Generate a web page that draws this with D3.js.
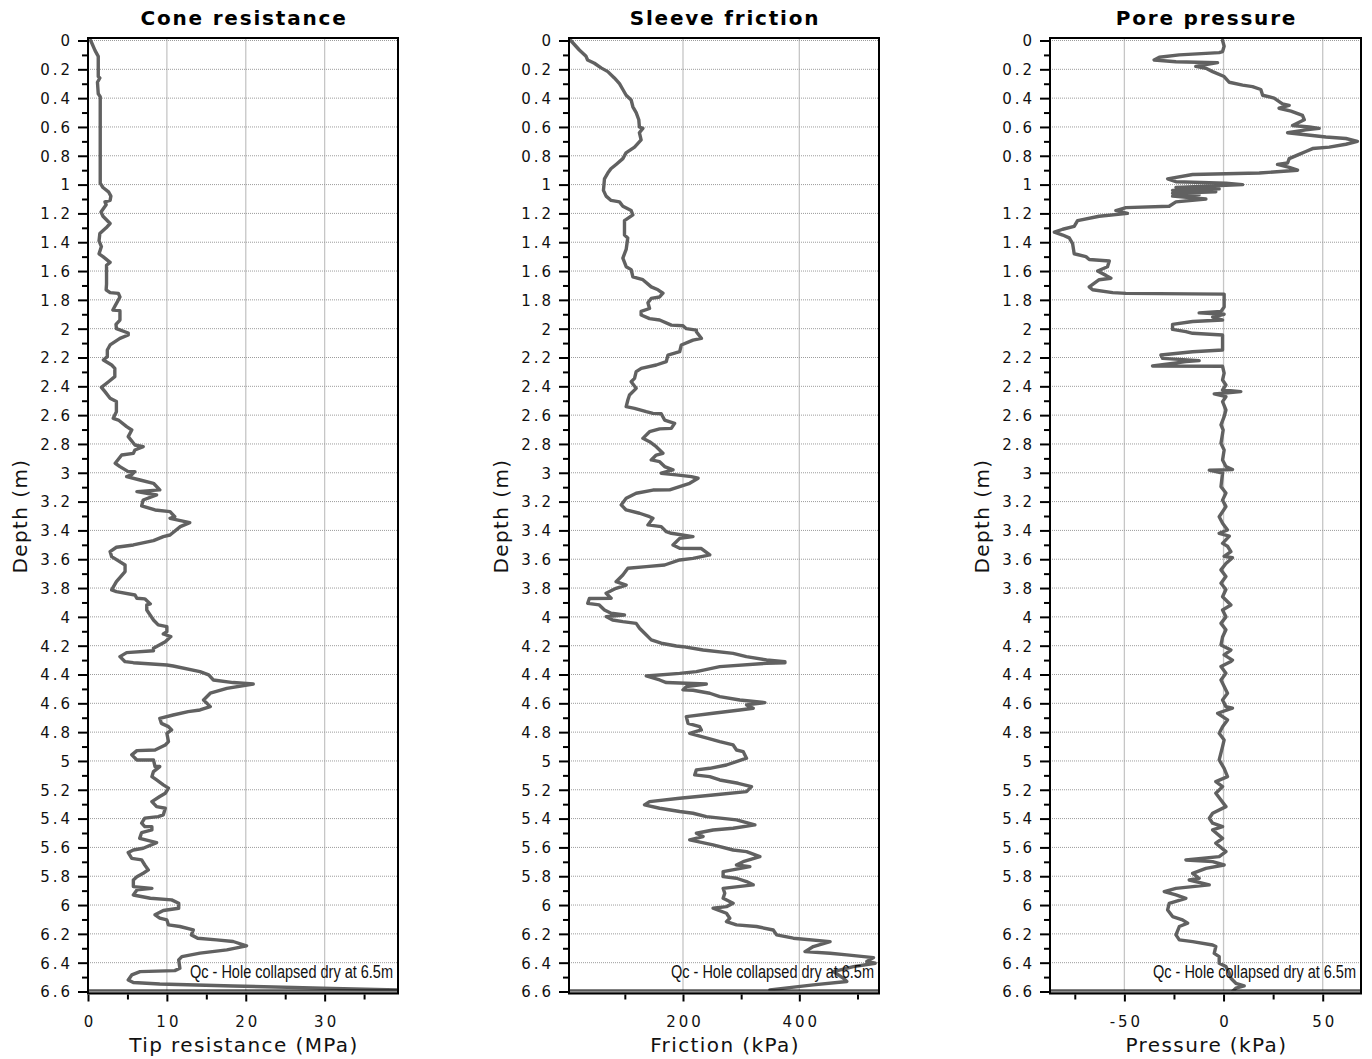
<!DOCTYPE html>
<html>
<head>
<meta charset="utf-8">
<script src="https://d3js.org/d3.v7.min.js"></script>
<style>
  body { margin: 0; background: #fff; }
  svg { display: block; }
  .tick text { font-family: "DejaVu Sans", Verdana, sans-serif; font-size: 15px; letter-spacing: 3px; fill: #111; }
  .title { font-family: "DejaVu Sans", Verdana, sans-serif; font-weight: bold; font-size: 20px; letter-spacing: 1.8px; fill: #000; }
  .axis-title { font-family: "DejaVu Sans", Verdana, sans-serif; font-size: 20px; letter-spacing: 1.4px; fill: #111; }
  .note { font-family: "Liberation Sans Narrow", "Liberation Sans", Arial, sans-serif; font-size: 18px; fill: #111; }
</style>
</head>
<body>
<svg id="chart" width="1372" height="1059"></svg>
<script>
// ---- CPT sounding: depth (m) vs. measured value ----

const panelTitles = ["Cone resistance", "Sleeve friction", "Pore pressure"];
const xAxisTitles = ["Tip resistance (MPa)", "Friction (kPa)", "Pressure (kPa)"];
const depthTitle = "Depth (m)";
const noteText = "Qc - Hole collapsed dry at 6.5m";

const depthDomain = [0, 6.6];
const depthTicks = [0, 0.2, 0.4, 0.6, 0.8, 1, 1.2, 1.4, 1.6, 1.8, 2, 2.2, 2.4, 2.6, 2.8, 3, 3.2, 3.4,
  3.6, 3.8, 4, 4.2, 4.4, 4.6, 4.8, 5, 5.2, 5.4, 5.6, 5.8, 6, 6.2, 6.4, 6.6];
const depthMinorTicks = [0.1, 0.3, 0.5, 0.7, 0.9, 1.1, 1.3, 1.5, 1.7, 1.9, 2.1, 2.3, 2.5, 2.7, 2.9,
  3.1, 3.3, 3.5, 3.7, 3.9, 4.1, 4.3, 4.5, 4.7, 4.9, 5.1, 5.3, 5.5, 5.7, 5.9, 6.1, 6.3, 6.5];

const coneDomain = [0, 39.3];
const coneTicks = [0, 10, 20, 30];
const coneMinorTicks = [5, 15, 25, 35];

const frictionDomain = [4, 537];
const frictionTicks = [200, 400];
const frictionMinorTicks = [100, 300, 500];

const poreDomain = [-87.5, 69.3];
const poreTicks = [-50, 0, 50];
const poreMinorTicks = [-75, -25, 25];

// [depth m, tip resistance MPa]
const coneProfile = [
  [0.00,0.34],[0.07,0.9],[0.11,1.3],[0.25,1.3],[0.26,1.5],[0.29,1.2],[0.37,1.3],[0.39,1.55],[0.99,1.55],
  [1.02,1.9],[1.05,2.6],[1.08,2.9],[1.11,2.8],[1.12,2.15],[1.14,2.3],[1.19,1.65],[1.22,1.9],[1.27,2.8],
  [1.30,2.3],[1.34,1.5],[1.39,1.4],[1.43,1.7],[1.48,1.4],[1.50,1.9],[1.54,2.8],[1.56,2.35],[1.69,2.35],
  [1.73,2.3],[1.75,2.8],[1.755,3.85],[1.78,4.05],[1.84,3.45],[1.87,3.15],[1.875,4.05],[1.94,4.05],
  [1.97,3.55],[2.00,3.6],[2.03,5.1],[2.044,5.1],[2.067,4.05],[2.113,2.8],[2.148,2.45],[2.194,2.45],
  [2.217,1.95],[2.252,3.0],[2.275,3.4],[2.333,3.4],[2.368,2.6],[2.407,1.7],[2.437,2.15],[2.483,2.8],
  [2.506,3.6],[2.576,3.6],[2.622,3.2],[2.634,3.85],[2.68,4.9],[2.703,5.55],[2.749,5.1],[2.807,5.95],
  [2.819,7.0],[2.842,5.95],[2.865,5.75],[2.877,4.27],[2.934,3.45],[2.957,4.05],[2.992,5.1],[2.992,5.95],
  [3.015,5.5],[3.027,4.9],[3.05,6.6],[3.073,8.3],[3.119,9.1],[3.131,6.2],[3.154,8.7],[3.189,7.0],
  [3.23,6.8],[3.258,8.5],[3.27,10.4],[3.305,11.0],[3.316,10.4],[3.346,12.9],[3.374,11.7],[3.432,10.4],
  [3.443,9.55],[3.471,8.3],[3.501,5.75],[3.517,3.6],[3.547,2.8],[3.582,3.0],[3.64,4.7],[3.686,4.7],
  [3.756,3.6],[3.813,3.0],[3.825,3.6],[3.848,5.95],[3.871,6.2],[3.875,7.2],[3.91,7.9],[3.917,7.45],
  [3.952,7.45],[4.022,8.3],[4.056,8.9],[4.068,10.0],[4.103,10.0],[4.119,9.55],[4.137,10.5],[4.172,9.8],
  [4.218,8.3],[4.235,8.3],[4.248,4.9],[4.276,4.05],[4.311,4.7],[4.318,5.75],[4.334,10.0],[4.341,10.8],
  [4.38,14.2],[4.403,15.3],[4.438,15.9],[4.456,18.4],[4.466,20.95],[4.496,17.6],[4.53,15.5],[4.577,14.65],
  [4.623,15.5],[4.646,14.2],[4.658,12.7],[4.681,10.8],[4.704,9.1],[4.739,9.3],[4.762,10.2],[4.785,10.6],
  [4.808,10.0],[4.866,10.2],[4.889,9.8],[4.924,8.5],[4.928,6.2],[4.958,5.55],[4.993,6.2],[4.993,8.3],
  [5.039,8.5],[5.039,9.1],[5.074,8.3],[5.109,8.1],[5.132,8.7],[5.166,9.55],[5.189,10.2],[5.224,9.8],
  [5.247,9.1],[5.282,8.1],[5.317,8.7],[5.328,9.8],[5.374,9.55],[5.386,8.9],[5.397,7.2],[5.432,6.8],
  [5.456,7.2],[5.456,8.1],[5.479,8.1],[5.497,6.8],[5.537,6.55],[5.567,8.7],[5.606,7.0],[5.618,5.75],
  [5.636,5.1],[5.676,5.55],[5.687,6.8],[5.722,7.2],[5.756,7.65],[5.779,7.0],[5.803,6.2],[5.826,5.75],
  [5.872,5.75],[5.884,8.1],[5.895,6.2],[5.93,5.75],[5.953,7.9],[5.964,10.6],[5.988,11.5],[6.022,11.5],
  [6.038,9.55],[6.068,8.5],[6.091,9.1],[6.103,10.0],[6.138,10.2],[6.149,11.65],[6.172,13.35],[6.207,13.1],
  [6.23,13.9],[6.242,16.3],[6.253,18.4],[6.283,20.1],[6.311,17.6],[6.334,14.2],[6.358,11.9],[6.381,11.5],
  [6.439,11.65],[6.455,11.0],[6.462,6.6],[6.485,5.55],[6.52,5.1],[6.538,5.75],[6.548,9.1],[6.562,18.4],
  [6.578,31.0],[6.589,39.3]
];

// [depth m, sleeve friction kPa]
const frictionProfile = [
  [0.00,7],[0.066,21.8],[0.11,33.3],[0.135,36],[0.158,47.7],[0.19,59.2],[0.216,70.7],[0.26,82],
  [0.30,90.8],[0.34,96.6],[0.38,102.3],[0.413,110.9],[0.46,113.8],[0.50,119.5],[0.55,124],[0.60,125],
  [0.61,131],[0.64,125],[0.69,128],[0.74,116.7],[0.78,102],[0.82,96.6],[0.86,85],[0.89,76],[0.92,70.7],
  [0.96,65],[1.04,63.2],[1.08,67.8],[1.11,76.4],[1.12,90.8],[1.15,96.6],[1.18,110.9],[1.21,113.8],
  [1.25,99.4],[1.35,99.4],[1.37,105],[1.45,102.3],[1.51,96.6],[1.57,102.3],[1.59,110.9],[1.64,113.8],
  [1.66,131],[1.71,145.4],[1.73,157],[1.754,165.5],[1.78,159.8],[1.79,145.4],[1.82,139.7],[1.86,142.5],
  [1.88,128],[1.905,128],[1.93,142.5],[1.94,159.8],[1.975,180],[1.98,200],[2.00,205.7],[2.01,223],
  [2.021,223],[2.067,231.6],[2.079,217.2],[2.113,197.1],[2.16,194.3],[2.183,174.1],[2.229,171.3],
  [2.252,154],[2.275,128.2],[2.298,119.5],[2.345,116.7],[2.368,110.9],[2.414,119.5],[2.46,108],
  [2.495,105.2],[2.541,102.3],[2.553,116.7],[2.576,136.8],[2.588,148.3],[2.59,162.6],[2.634,168.4],
  [2.657,185.6],[2.692,179.9],[2.695,159.8],[2.715,142.5],[2.761,131],[2.784,142.5],[2.819,154],
  [2.865,165.5],[2.877,154],[2.911,145.4],[2.923,159.8],[2.957,168.4],[2.98,182.8],[3.003,162.6],
  [3.015,188.5],[3.027,214.4],[3.038,225.9],[3.073,211.5],[3.119,177],[3.12,148.3],[3.142,119.5],
  [3.177,102.3],[3.223,93.7],[3.258,102.3],[3.281,125.3],[3.305,142.5],[3.316,148.3],[3.362,139.7],
  [3.374,162.6],[3.409,171.3],[3.42,179.9],[3.443,217.2],[3.455,194.3],[3.501,182.8],[3.524,194.3],
  [3.526,231.6],[3.57,246],[3.594,217.2],[3.605,194.3],[3.64,168.4],[3.651,136.8],[3.663,105.2],
  [3.709,96.6],[3.756,85],[3.779,102.3],[3.802,85],[3.836,67.8],[3.871,76.4],[3.873,39],[3.906,36.2],
  [3.917,56],[3.952,65],[3.975,76.4],[3.987,99.4],[3.998,67.8],[4.022,79],[4.033,96.6],[4.045,119.5],
  [4.079,125.3],[4.114,134],[4.16,145.4],[4.183,162.6],[4.202,188.5],[4.207,200],[4.23,234.5],
  [4.253,286.2],[4.276,309],[4.299,343.7],[4.311,375.3],[4.318,375.3],[4.322,343.7],[4.345,263.2],
  [4.38,223],[4.392,194.3],[4.41,136.8],[4.438,159.8],[4.456,171.3],[4.461,205.7],[4.466,240.2],
  [4.484,205.7],[4.507,200],[4.509,217.2],[4.53,246],[4.554,263.2],[4.577,297.7],[4.595,340.8],
  [4.611,309.2],[4.634,320.7],[4.646,297.7],[4.669,251.7],[4.692,205.7],[4.739,208.6],[4.762,228.7],
  [4.785,231.6],[4.808,211.5],[4.843,243.1],[4.866,263.2],[4.889,286.2],[4.924,292],[4.935,303.4],
  [4.981,309.2],[5.028,274.7],[5.051,246],[5.062,223],[5.097,220.1],[5.109,246],[5.132,263.2],
  [5.155,294.8],[5.178,317.8],[5.213,309.2],[5.236,251.7],[5.259,194.3],[5.282,142.5],[5.305,133.9],
  [5.328,159.8],[5.351,194.3],[5.363,217.2],[5.386,240.2],[5.409,292],[5.444,323.6],[5.467,286.2],
  [5.479,251.7],[5.502,223],[5.525,234.5],[5.548,211.5],[5.583,251.7],[5.618,286.2],[5.629,309.2],
  [5.664,332.2],[5.699,303.4],[5.722,292],[5.733,315],[5.768,269],[5.803,269],[5.814,292],[5.837,309.2],
  [5.86,320.7],[5.884,269],[5.918,271.8],[5.953,269],[5.988,286.2],[6.011,274.7],[6.022,251.7],
  [6.057,274.7],[6.092,280.5],[6.115,274.7],[6.138,292],[6.149,326.4],[6.173,355.2],[6.207,360.9],
  [6.23,389.7],[6.254,452.9],[6.288,424.1],[6.323,409.8],[6.335,452.9],[6.346,481.6],[6.365,527.6],
  [6.392,516.1],[6.404,530.5],[6.427,493.1],[6.462,458.6],[6.508,475.9],[6.531,481.6],[6.554,424.1],
  [6.589,349.4]
];

// [depth m, pore pressure kPa]
const poreProfile = [
  [0.00,-0.5],[0.04,0.3],[0.077,-0.5],[0.084,-2.2],[0.10,-22.3],[0.116,-32.4],[0.135,-35],[0.147,-24],
  [0.154,-3],[0.18,-14],[0.193,-8.9],[0.216,-5.5],[0.25,0.3],[0.29,2.9],[0.31,9.6],[0.32,14.6],
  [0.34,18.8],[0.38,19.7],[0.40,25.5],[0.44,29.7],[0.45,33.1],[0.47,28],[0.49,34],[0.52,39.8],
  [0.55,40.7],[0.59,34.8],[0.60,43.2],[0.61,48.2],[0.62,41.5],[0.64,32.3],[0.67,51.6],[0.68,61.7],
  [0.70,67.5],[0.72,61.7],[0.74,53.3],[0.75,44.9],[0.77,41.5],[0.79,38.1],[0.82,33.1],[0.85,32.3],
  [0.86,27.2],[0.88,33.1],[0.90,37.3],[0.92,18],[0.93,-15.6],[0.96,-28.2],[0.98,-24],[0.99,1.2],
  [1.00,9.6],[1.02,-24],[1.03,-2.2],[1.04,-25.7],[1.05,-3.9],[1.06,-25.7],[1.07,-12.3],[1.08,-25.7],
  [1.10,-8.9],[1.12,-24],[1.15,-27.4],[1.16,-49.2],[1.18,-54.3],[1.20,-48.4],[1.22,-62.7],[1.25,-73.6],
  [1.29,-75.3],[1.31,-81.1],[1.33,-85.3],[1.35,-81.1],[1.37,-77.8],[1.41,-76.1],[1.48,-75.3],
  [1.50,-69.4],[1.52,-67.7],[1.53,-57.6],[1.57,-58.5],[1.60,-63.5],[1.63,-59.3],[1.65,-56.8],
  [1.66,-62.7],[1.71,-67.7],[1.73,-66],[1.75,-55.9],[1.755,-49.2],[1.76,0.3],[1.85,0.3],[1.88,-1.3],
  [1.89,-12.3],[1.90,0.3],[1.92,-5.5],[1.94,-0.5],[1.95,-15.6],[1.97,-25.7],[2.005,-25.7],[2.02,-19],
  [2.032,-15.6],[2.044,-0.5],[2.148,-0.5],[2.16,-15.6],[2.183,-31.6],[2.206,-30.7],[2.222,-12.3],
  [2.229,-19],[2.259,-35.8],[2.261,-0.5],[2.309,0.3],[2.356,-0.5],[2.391,1.2],[2.426,-0.5],[2.437,8.7],
  [2.453,-4.7],[2.472,1.2],[2.506,-0.5],[2.564,1.2],[2.611,0.3],[2.668,-1.3],[2.703,-0.2],[2.796,-1.3],
  [2.842,0.3],[2.911,-0.5],[2.957,1.2],[2.978,4.5],[2.982,-7.2],[3.003,-0.5],[3.096,-1.3],[3.14,1.2],
  [3.19,-0.5],[3.235,1.2],[3.305,-2.2],[3.35,-0.5],[3.397,2.0],[3.42,-2.2],[3.44,2.9],[3.49,-0.5],
  [3.51,2.0],[3.547,3.7],[3.58,0.3],[3.59,4.5],[3.63,1.2],[3.674,-1.3],[3.72,1.2],[3.767,-1.3],
  [3.81,1.2],[3.86,-0.5],[3.918,3.7],[3.952,-0.5],[4.0,1.2],[4.045,-1.3],[4.09,1.2],[4.14,-0.5],
  [4.195,-1.3],[4.23,3.7],[4.264,0.3],[4.30,4.5],[4.31,3.7],[4.345,-1.3],[4.392,1.2],[4.438,-1.3],
  [4.53,2.0],[4.577,-0.5],[4.623,1.2],[4.634,4.5],[4.669,-3.0],[4.715,2.0],[4.762,-0.5],[4.808,-2.2],
  [4.854,0.3],[4.9,-0.5],[4.993,-2.2],[5.051,0.3],[5.109,2.0],[5.143,-3.9],[5.178,-0.5],[5.224,-3.9],
  [5.317,1.2],[5.363,-5.5],[5.398,-7.2],[5.432,-5.5],[5.456,-0.5],[5.479,-5.5],[5.537,-0.5],[5.571,-3.9],
  [5.629,1.2],[5.664,-2.2],[5.687,-19],[5.699,-5.5],[5.722,0.3],[5.745,-8.9],[5.78,-15.6],[5.814,-12.3],
  [5.826,-17.3],[5.86,-7.2],[5.884,-24],[5.907,-29.9],[5.93,-24],[5.953,-19],[5.988,-27.4],[6.034,-28.2],
  [6.08,-25.7],[6.103,-20.7],[6.126,-18.1],[6.149,-22.3],[6.207,-24],[6.242,-22.3],[6.254,-15.6],
  [6.277,-5.5],[6.288,-3.9],[6.335,-4.7],[6.358,-2.2],[6.404,-2.2],[6.427,1.2],[6.473,2.9],[6.508,3.7],
  [6.543,6.2],[6.561,10.4],[6.577,6.2],[6.60,4.5]
];

// ---- layout ----
const svg = d3.select("#chart");
const yTop = 40.5, yBottom = 991.5;        // depth 0 and 6.6
const frameTop = 38, frameBottom = 993.5;  // plot frame edges

const panels = [
  { title: panelTitles[0], xTitle: xAxisTitles[0], data: coneProfile, domain: coneDomain,
    major: coneTicks, minor: coneMinorTicks, left: 88, width: 310 },
  { title: panelTitles[1], xTitle: xAxisTitles[1], data: frictionProfile, domain: frictionDomain,
    major: frictionTicks, minor: frictionMinorTicks, left: 569, width: 310 },
  { title: panelTitles[2], xTitle: xAxisTitles[2], data: poreProfile, domain: poreDomain,
    major: poreTicks, minor: poreMinorTicks, left: 1050, width: 311 }
];

const y = d3.scaleLinear().domain(depthDomain).range([yTop, yBottom]);
const depthFmt = d => String(+d.toFixed(1));
const valueFmt = d => String(d);   // plain hyphen-minus for negatives

panels.forEach((p, i) => {
  const right = p.left + p.width;
  const x = d3.scaleLinear().domain(p.domain).range([p.left, right]);
  const g = svg.append("g");

  // grid
  g.append("g").selectAll("line")
    .data(p.major.filter(v => x(v) > p.left + 3))
    .join("line")
    .attr("x1", d => x(d)).attr("x2", d => x(d))
    .attr("y1", frameTop).attr("y2", frameBottom)
    .attr("stroke", "#c6c6c6").attr("stroke-width", 1.3);

  g.append("g").selectAll("line")
    .data(depthTicks)
    .join("line")
    .attr("x1", p.left).attr("x2", right)
    .attr("y1", d => y(d)).attr("y2", d => y(d))
    .attr("stroke", "#9c9c9c").attr("stroke-width", 1)
    .attr("stroke-dasharray", "1,1");

  // profile
  const clipId = "clip" + i;
  svg.append("clipPath").attr("id", clipId)
    .append("rect").attr("x", p.left).attr("y", frameTop)
    .attr("width", p.width).attr("height", frameBottom - frameTop);

  const line = d3.line().x(d => x(d[1])).y(d => y(d[0]));
  g.append("path")
    .datum(p.data)
    .attr("clip-path", `url(#${clipId})`)
    .attr("d", line)
    .attr("fill", "none")
    .attr("stroke", "#616161")
    .attr("stroke-width", 3.4)
    .attr("stroke-linejoin", "round")
    .attr("stroke-linecap", "round");

  // note
  g.append("text")
    .attr("class", "note")
    .attr("x", right - 5).attr("y", 978)
    .attr("text-anchor", "end")
    .attr("textLength", 203)
    .attr("lengthAdjust", "spacingAndGlyphs")
    .text(noteText);

  // frame: bottom double rule, top and right edges
  g.append("rect").attr("x", p.left).attr("y", 990.3)
    .attr("width", p.width).attr("height", 2.6).attr("fill", "#8c8c8c");
  g.append("line").attr("x1", p.left).attr("x2", right).attr("y1", 990).attr("y2", 990)
    .attr("stroke", "#000").attr("stroke-width", 1);
  g.append("line").attr("x1", p.left - 1).attr("x2", right + 1).attr("y1", frameBottom).attr("y2", frameBottom)
    .attr("stroke", "#000").attr("stroke-width", 2);
  g.append("line").attr("x1", p.left - 1).attr("x2", right + 1).attr("y1", frameTop).attr("y2", frameTop)
    .attr("stroke", "#000").attr("stroke-width", 2);
  g.append("line").attr("x1", right).attr("x2", right).attr("y1", frameTop).attr("y2", frameBottom)
    .attr("stroke", "#000").attr("stroke-width", 2);
  g.append("line").attr("x1", p.left).attr("x2", p.left).attr("y1", frameTop).attr("y2", frameBottom)
    .attr("stroke", "#000").attr("stroke-width", 2);

  // depth axis
  const yAxis = d3.axisLeft(y).tickValues(depthTicks).tickSize(10).tickPadding(5).tickFormat(depthFmt);
  const yMinor = d3.axisLeft(y).tickValues(depthMinorTicks).tickSize(6).tickFormat("");
  [yAxis, yMinor].forEach(ax => {
    g.append("g").attr("transform", `translate(${p.left},0)`).call(ax)
      .call(a => a.select(".domain").remove())
      .call(a => a.selectAll(".tick line").attr("stroke", "#000").attr("stroke-width", 2));
  });
  g.selectAll(".tick text").attr("dy", "0.36em");

  // value axis
  const xAxis = d3.axisBottom(x).tickValues(p.major).tickSize(7).tickPadding(15).tickFormat(valueFmt);
  const xMinor = d3.axisBottom(x).tickValues(p.minor).tickSize(5).tickFormat("");
  [xAxis, xMinor].forEach(ax => {
    g.append("g").attr("transform", `translate(0,${frameBottom + 1})`).call(ax)
      .call(a => a.select(".domain").remove())
      .call(a => a.selectAll(".tick line").attr("stroke", "#000").attr("stroke-width", 2))
      .call(a => a.selectAll(".tick text").attr("dx", "1.5px"));
  });

  // titles
  const cx = (p.left + right) / 2;
  g.append("text").attr("class", "title")
    .attr("x", cx + 1).attr("y", 25).attr("text-anchor", "middle").text(p.title);
  g.append("text").attr("class", "axis-title")
    .attr("x", cx + 1).attr("y", 1052).attr("text-anchor", "middle").text(p.xTitle);
  g.append("text").attr("class", "axis-title")
    .attr("transform", `translate(${p.left - 61},${(yTop + yBottom) / 2}) rotate(-90)`)
    .attr("text-anchor", "middle").text(depthTitle);
});
</script>
</body>
</html>
